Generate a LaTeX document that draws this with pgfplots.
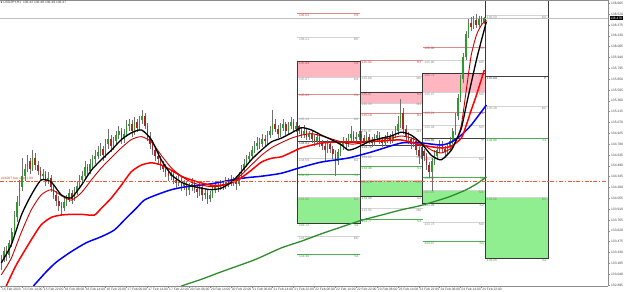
\documentclass[border=0pt]{standalone}
\usepackage{fontspec}
\setmainfont{Liberation Sans}
\newfontfamily\symfont{DejaVu Sans}
\usepackage{pgfplots}
\pgfplotsset{compat=1.18}
\usepackage{pgfplotstable}

\definecolor{bull}{HTML}{2E9A2E}
\definecolor{bear}{HTML}{A82828}
\definecolor{wick}{HTML}{707070}
\definecolor{rlev}{HTML}{D98C8C}
\definecolor{rtxt}{HTML}{C04848}
\definecolor{mlev}{HTML}{D4D4D4}
\definecolor{mtxt}{HTML}{8A8A8A}
\definecolor{plev}{HTML}{404040}
\definecolor{slev}{HTML}{4CAF50}
\definecolor{stxt}{HTML}{3C9A3C}
\definecolor{pinkf}{HTML}{FFB6C1}
\definecolor{greenf}{HTML}{90EE90}
\definecolor{framec}{HTML}{383838}
\definecolor{maG}{HTML}{2E8B2E}
\definecolor{maRt}{HTML}{C80000}
\definecolor{ordl}{HTML}{F05A30}

\newcommand{\tinyf}{\fontsize{3.3}{3.6}\selectfont}

% level line: x1 x2 value linecolor textcolor name
\newcommand{\lvl}[6]{%
 \addplot[#4, line width=0.9pt, forget plot] coordinates {(#1,#3) (#2,#3)};
 \node[anchor=north west, inner sep=0.4pt, xshift=1pt, text=#5, font=\tinyf] at (axis cs:#1,#3) {#3};
 \node[anchor=north east, inner sep=0.4pt, xshift=-1pt, text=#5, font=\tinyf] at (axis cs:#2,#3) {#6};
}
% fills: x1 x2 R2 M4 M1 S2
\newcommand{\pfill}[6]{%
 \addplot[fill=pinkf, draw=none, forget plot] coordinates {(#1,#3)(#2,#3)(#2,#4)(#1,#4)} -- cycle;
 \addplot[fill=greenf, draw=none, forget plot] coordinates {(#1,#5)(#2,#5)(#2,#6)(#1,#6)} -- cycle;
}
\newcommand{\pframe}[4]{%
 \addplot[draw=framec, line width=0.9pt, forget plot] coordinates {(#1,#3)(#2,#3)(#2,#4)(#1,#4)} -- cycle;
}

\pgfplotstableread{
i o h l c
0 133.15 133.30 133.10 133.25
1 133.25 133.40 133.20 133.35
2 133.35 133.42 133.22 133.30
3 133.30 133.50 133.26 133.45
4 133.45 133.66 133.40 133.60
5 133.60 133.88 133.55 133.80
6 133.80 134.08 133.74 134.00
7 134.00 134.30 133.95 134.20
8 134.20 134.60 134.15 134.35
9 134.35 134.52 134.28 134.45
10 134.45 134.64 134.40 134.55
11 134.55 134.60 134.38 134.45
12 134.45 134.70 134.42 134.60
13 134.60 134.66 134.44 134.50
14 134.50 134.56 134.36 134.42
15 134.42 134.48 134.28 134.35
16 134.35 134.45 134.30 134.38
17 134.38 134.42 134.22 134.28
18 134.28 134.40 134.24 134.32
19 134.32 134.36 134.14 134.20
20 134.20 134.25 134.04 134.10
21 134.10 134.15 133.95 134.02
22 134.02 134.08 133.88 133.95
23 133.95 134.00 133.82 133.92
24 133.92 134.06 133.88 134.00
25 134.00 134.10 133.95 134.05
26 134.05 134.18 134.00 134.12
27 134.12 134.16 133.98 134.05
28 134.05 134.20 134.02 134.15
29 134.15 134.28 134.10 134.22
30 134.22 134.36 134.18 134.30
31 134.30 134.42 134.25 134.35
32 134.35 134.55 134.32 134.48
33 134.48 134.52 134.36 134.42
34 134.42 134.58 134.38 134.52
35 134.52 134.64 134.46 134.58
36 134.58 134.70 134.52 134.62
37 134.62 134.75 134.58 134.68
38 134.68 134.80 134.62 134.72
39 134.72 134.76 134.56 134.64
40 134.64 134.85 134.60 134.78
41 134.78 134.98 134.72 134.85
42 134.85 134.90 134.68 134.75
43 134.75 134.88 134.70 134.82
44 134.82 134.96 134.78 134.90
45 134.90 135.02 134.85 134.95
46 134.95 135.00 134.78 134.85
47 134.85 134.98 134.80 134.92
48 134.92 135.10 134.88 135.02
49 135.02 135.12 134.96 135.05
50 135.05 135.10 134.88 134.95
51 134.95 135.14 134.90 135.08
52 135.08 135.12 134.94 135.00
53 135.00 135.16 134.96 135.10
54 135.10 135.24 135.05 135.15
55 135.15 135.20 134.98 135.02
56 135.02 135.06 134.82 134.88
57 134.88 134.94 134.72 134.78
58 134.78 134.84 134.64 134.70
59 134.70 134.76 134.56 134.62
60 134.62 134.68 134.52 134.58
61 134.58 134.62 134.44 134.50
62 134.50 134.56 134.40 134.45
63 134.45 134.52 134.34 134.40
64 134.40 134.46 134.28 134.35
65 134.35 134.44 134.30 134.38
66 134.38 134.42 134.24 134.30
67 134.30 134.35 134.18 134.26
68 134.26 134.36 134.22 134.30
69 134.30 134.34 134.15 134.22
70 134.22 134.30 134.16 134.25
71 134.25 134.28 134.08 134.16
72 134.16 134.26 134.10 134.20
73 134.20 134.32 134.15 134.25
74 134.25 134.30 134.12 134.18
75 134.18 134.22 134.06 134.14
76 134.14 134.26 134.08 134.20
77 134.20 134.24 134.02 134.10
78 134.10 134.18 134.04 134.12
79 134.12 134.16 133.98 134.05
80 134.05 134.15 134.00 134.10
81 134.10 134.22 134.06 134.16
82 134.16 134.28 134.12 134.22
83 134.22 134.26 134.14 134.20
84 134.20 134.30 134.16 134.24
85 134.24 134.28 134.16 134.22
86 134.22 134.34 134.18 134.28
87 134.28 134.32 134.20 134.25
88 134.25 134.36 134.22 134.30
89 134.30 134.34 134.22 134.28
90 134.28 134.32 134.17 134.25
91 134.25 134.40 134.22 134.35
92 134.35 134.50 134.32 134.45
93 134.45 134.58 134.40 134.52
94 134.52 134.64 134.48 134.58
95 134.58 134.68 134.54 134.62
96 134.62 134.76 134.58 134.70
97 134.70 134.82 134.66 134.75
98 134.75 134.88 134.70 134.80
99 134.80 134.86 134.72 134.78
100 134.78 134.92 134.74 134.85
101 134.85 134.90 134.76 134.82
102 134.82 134.96 134.78 134.90
103 134.90 135.02 134.86 134.95
104 134.95 135.24 134.90 135.05
105 135.05 135.12 134.94 134.98
106 134.98 135.04 134.86 134.92
107 134.92 135.06 134.88 135.00
108 135.00 135.12 134.96 135.05
109 135.05 135.08 134.90 134.96
110 134.96 135.08 134.92 135.02
111 135.02 135.14 134.98 135.08
112 135.08 135.12 134.94 134.98
113 134.98 135.08 134.94 135.02
114 135.02 135.04 134.92 134.96
115 134.96 135.00 134.86 134.90
116 134.90 135.04 134.86 134.95
117 134.95 134.98 134.84 134.88
118 134.88 134.96 134.84 134.92
119 134.92 134.95 134.80 134.85
120 134.85 134.90 134.76 134.82
121 134.82 134.94 134.78 134.88
122 134.88 134.92 134.74 134.80
123 134.80 134.84 134.70 134.75
124 134.75 134.80 134.55 134.70
125 134.70 134.84 134.66 134.78
126 134.78 134.82 134.66 134.72
127 134.72 134.76 134.58 134.65
128 134.65 134.70 134.35 134.55
129 134.55 134.72 134.50 134.68
130 134.68 134.80 134.62 134.75
131 134.75 134.88 134.70 134.82
132 134.82 134.86 134.72 134.78
133 134.78 134.92 134.74 134.86
134 134.86 135.02 134.82 134.92
135 134.92 134.96 134.80 134.85
136 134.85 134.94 134.80 134.88
137 134.88 134.96 134.84 134.91
138 134.91 134.95 134.80 134.86
139 134.86 134.90 134.76 134.82
140 134.82 134.94 134.78 134.88
141 134.88 134.92 134.78 134.84
142 134.84 134.88 134.74 134.80
143 134.80 134.92 134.76 134.86
144 134.86 134.96 134.82 134.90
145 134.90 134.94 134.78 134.84
146 134.84 134.88 134.74 134.80
147 134.80 134.90 134.76 134.85
148 134.85 134.94 134.80 134.88
149 134.88 134.92 134.78 134.83
150 134.83 134.96 134.80 134.90
151 134.90 135.02 134.86 134.95
152 134.95 135.15 134.90 135.05
153 135.05 135.38 135.00 135.20
154 135.20 135.26 134.92 134.98
155 134.98 135.04 134.82 134.88
156 134.88 134.94 134.78 134.85
157 134.85 134.88 134.72 134.78
158 134.78 134.88 134.74 134.82
159 134.82 134.85 134.64 134.70
160 134.70 134.74 134.51 134.62
161 134.62 134.74 134.58 134.69
162 134.69 134.72 134.56 134.62
163 134.62 134.66 134.44 134.50
164 134.50 134.54 134.32 134.40
165 134.40 134.60 134.15 134.55
166 134.55 134.70 134.50 134.62
167 134.62 134.76 134.58 134.70
168 134.70 134.84 134.66 134.78
169 134.78 134.82 134.66 134.72
170 134.72 134.76 134.60 134.68
171 134.68 134.80 134.64 134.75
172 134.75 134.88 134.70 134.82
173 134.82 135.00 134.78 134.95
174 134.95 135.20 134.90 135.15
175 135.15 135.45 135.10 135.40
176 135.40 135.70 135.35 135.65
177 135.65 136.00 135.60 135.95
178 135.95 136.30 135.90 136.25
179 136.25 136.46 136.20 136.40
180 136.40 136.48 136.30 136.35
181 136.35 136.50 136.32 136.44
182 136.44 136.52 136.34 136.38
183 136.38 136.50 136.35 136.46
184 136.46 136.49 136.38 136.42
185 136.42 136.48 136.39 136.47
}\ohlc

\begin{document}
\begin{tikzpicture}
\path[use as bounding box] (0,0) rectangle (625pt,292pt);
\begin{axis}[
  scale only axis, width=608pt, height=286pt,
  at={(0pt,6pt)}, anchor=south west,
  xmin=-0.5, xmax=232.5, ymin=132.88, ymax=136.71,
  separate axis lines,
  axis x line*=bottom, axis y line*=right,
  axis line style={draw=black!45, line width=0.6pt},
  tick align=outside, major tick length=2pt,
  tick style={black!45, line width=0.4pt},
  xtick={0,8,...,184},
  xticklabels={15 Feb 2023, 15 Feb 14:00, 15 Feb 22:00, 16 Feb 06:00, 16 Feb 14:00, 16 Feb 22:00, 17 Feb 06:00, 17 Feb 14:00, 17 Feb 22:00, 20 Feb 06:00, 20 Feb 14:00, 20 Feb 22:00, 21 Feb 06:00, 21 Feb 14:00, 21 Feb 22:00, 22 Feb 06:00, 22 Feb 14:00, 22 Feb 22:00, 23 Feb 06:00, 23 Feb 14:00, 23 Feb 22:00, 24 Feb 06:00, 24 Feb 14:00, 24 Feb 22:00},
  xticklabel style={font=\tinyf, text=black!75, anchor=north west, inner sep=0.4pt, xshift=0.3pt},
  ytick={136.665,136.52,136.375,136.23,136.085,135.94,135.795,135.65,135.505,135.36,135.215,135.07,134.925,134.78,134.635,134.49,134.345,134.2,134.055,133.91,133.765,133.62,133.475,133.33,133.185,133.04,132.895},
  yticklabel style={font=\tinyf, text=black!75, anchor=west, inner sep=0.4pt, xshift=0.5pt,
    /pgf/number format/.cd, fixed, fixed zerofill, precision=3, assume math mode=true},
  scaled y ticks=false,
  clip=true,
]
% ---- pivot zones: fills
\pfill{113.5}{137.5}{135.89}{135.67}{134.06}{133.72}
\pfill{137.5}{161.5}{135.47}{135.33}{134.29}{134.08}
\pfill{161.5}{185.5}{135.73}{135.47}{134.16}{133.99}
\addplot[fill=greenf, draw=none, forget plot] coordinates {(185.5,134.06)(209.5,134.06)(209.5,133.25)(185.5,133.25)} -- cycle;
% ---- box 1
\lvl{113.5}{137.5}{136.53}{rlev}{rtxt}{R3}
\lvl{113.5}{137.5}{136.21}{mlev}{mtxt}{M5}
\lvl{113.5}{137.5}{135.89}{rlev}{rtxt}{R2}
\lvl{113.5}{137.5}{135.67}{mlev}{mtxt}{M4}
\lvl{113.5}{137.5}{135.45}{rlev}{rtxt}{R1}
\lvl{113.5}{137.5}{135.13}{mlev}{mtxt}{M3}
\lvl{113.5}{137.5}{134.81}{plev}{plev}{P}
\lvl{113.5}{137.5}{134.59}{mlev}{mtxt}{M2}
\lvl{113.5}{137.5}{134.38}{slev}{stxt}{S1}
\lvl{113.5}{137.5}{134.06}{mlev}{mtxt}{M1}
\lvl{113.5}{137.5}{133.72}{slev}{stxt}{S2}
\lvl{113.5}{137.5}{133.54}{mlev}{mtxt}{M0}
\lvl{113.5}{137.5}{133.30}{slev}{stxt}{S3}
% ---- box 2
\lvl{137.5}{161.5}{135.90}{rlev}{rtxt}{R3}
\lvl{137.5}{161.5}{135.68}{mlev}{mtxt}{M5}
\lvl{137.5}{161.5}{135.47}{rlev}{rtxt}{R2}
\lvl{137.5}{161.5}{135.33}{mlev}{mtxt}{M4}
\lvl{137.5}{161.5}{135.19}{rlev}{rtxt}{R1}
\lvl{137.5}{161.5}{134.97}{mlev}{mtxt}{M3}
\lvl{137.5}{161.5}{134.76}{plev}{plev}{P}
\lvl{137.5}{161.5}{134.62}{mlev}{mtxt}{M2}
\lvl{137.5}{161.5}{134.48}{slev}{stxt}{S1}
\lvl{137.5}{161.5}{134.29}{mlev}{mtxt}{M1}
\lvl{137.5}{161.5}{134.08}{slev}{stxt}{S2}
\lvl{137.5}{161.5}{133.92}{mlev}{mtxt}{M0}
\lvl{137.5}{161.5}{133.77}{slev}{stxt}{S3}
% ---- box 3
\lvl{161.5}{185.5}{136.08}{rlev}{rtxt}{R3}
\lvl{161.5}{185.5}{135.90}{mlev}{mtxt}{M5}
\lvl{161.5}{185.5}{135.73}{rlev}{rtxt}{R2}
\lvl{161.5}{185.5}{135.47}{mlev}{mtxt}{M4}
\lvl{161.5}{185.5}{135.21}{rlev}{rtxt}{R1}
\lvl{161.5}{185.5}{135.03}{mlev}{mtxt}{M3}
\lvl{161.5}{185.5}{134.86}{plev}{plev}{P}
\lvl{161.5}{185.5}{134.60}{mlev}{mtxt}{M2}
\lvl{161.5}{185.5}{134.34}{slev}{stxt}{S1}
\lvl{161.5}{185.5}{134.16}{mlev}{mtxt}{M1}
\lvl{161.5}{185.5}{133.99}{slev}{stxt}{S2}
\lvl{161.5}{185.5}{133.73}{mlev}{mtxt}{M0}
\lvl{161.5}{185.5}{133.47}{slev}{stxt}{S3}
% ---- box 4
\lvl{185.5}{209.5}{136.50}{mlev}{mtxt}{M3}
\lvl{185.5}{209.5}{135.69}{plev}{plev}{P}
\lvl{185.5}{209.5}{135.28}{mlev}{mtxt}{M2}
\lvl{185.5}{209.5}{134.86}{slev}{stxt}{S1}
\lvl{185.5}{209.5}{134.06}{mlev}{mtxt}{M1}
\lvl{185.5}{209.5}{133.25}{slev}{stxt}{S2}
% ---- frames
\pframe{113.5}{137.5}{135.89}{133.72}
\pframe{137.5}{161.5}{135.47}{134.08}
\pframe{161.5}{185.5}{135.73}{133.99}
\pframe{185.5}{209.5}{138.13}{133.25}
% ---- bid line
\addplot[color=black!25, line width=0.6pt, forget plot] coordinates {(-0.5,136.47)(232.5,136.47)};
% ---- candles: wicks
\addplot[draw=none, mark=none, forget plot,
  error bars/.cd, y dir=plus, y explicit, error mark=none,
  error bar style={line width=0.5pt, draw=wick}]
  table[x=i, y=l, y error expr=\thisrow{h}-\thisrow{l}] {\ohlc};
% bull bodies
\addplot[draw=none, mark=none, forget plot,
  restrict expr to domain={\thisrow{c}-\thisrow{o}}{0:10},
  error bars/.cd, y dir=plus, y explicit, error mark=none,
  error bar style={line width=1.6pt, draw=bull}]
  table[x=i, y=o, y error expr=\thisrow{c}-\thisrow{o}] {\ohlc};
% bear bodies
\addplot[draw=none, mark=none, forget plot,
  restrict expr to domain={\thisrow{o}-\thisrow{c}}{0.0001:10},
  error bars/.cd, y dir=plus, y explicit, error mark=none,
  error bar style={line width=1.6pt, draw=bear}]
  table[x=i, y=c, y error expr=\thisrow{o}-\thisrow{c}] {\ohlc};
% ---- moving averages
\addplot[maG, line width=1.3pt, smooth, tension=0.4] coordinates {
(69.0,132.88)(76.7,132.97)(84.3,133.07)(97.0,133.23)(107.3,133.39)(115.0,133.48)(122.7,133.58)(130.3,133.67)(138.0,133.76)(145.7,133.83)(153.3,133.90)(161.0,133.96)(171.3,134.07)(178.2,134.17)(182.1,134.246)(185.9,134.34)};
\addplot[blue, line width=1.5pt, smooth, tension=0.4] coordinates {
(12.3,132.88)(17.2,133.07)(21.1,133.20)(26.8,133.34)(32.6,133.46)(38.3,133.54)(43.3,133.63)(47.9,133.79)(51.7,133.92)(54.8,134.03)(59.4,134.10)(65.2,134.17)(70.9,134.21)(76.7,134.23)(82.4,134.26)(88.2,134.30)(93.9,134.33)(99.7,134.35)(107.3,134.39)(115.0,134.47)(122.7,134.54)(133.0,134.594)(141.8,134.674)(153.3,134.795)(161.0,134.795)(168.6,134.768)(172.5,134.808)(176.3,134.902)(180.1,135.036)(185.9,135.304)};
\addplot[red, line width=1.5pt, smooth, tension=0.4] coordinates {
(1.9,132.88)(5.7,133.16)(11.5,133.50)(15.3,133.70)(19.2,133.80)(23.0,133.83)(26.8,133.84)(30.7,133.84)(35.6,133.83)(38.3,133.92)(42.2,134.06)(46.0,134.23)(49.8,134.41)(53.7,134.50)(57.5,134.53)(61.3,134.50)(65.2,134.43)(69.0,134.35)(72.8,134.30)(76.7,134.26)(80.5,134.23)(84.3,134.23)(88.2,134.26)(92.0,134.33)(95.8,134.43)(99.7,134.54)(103.5,134.59)(107.3,134.61)(111.2,134.67)(115.0,134.73)(122.7,134.795)(130.3,134.808)(138.0,134.808)(145.7,134.822)(153.3,134.835)(161.0,134.768)(168.6,134.728)(172.5,134.755)(176.3,134.862)(178.2,135.036)(180.1,135.237)(182.1,135.438)(185.1,135.773)};
\addplot[maRt, line width=0.9pt, smooth, tension=0.4] coordinates {
(0,133.03)(3.8,133.25)(7.7,133.60)(11.5,133.90)(15.3,134.10)(19.2,134.17)(23.0,134.09)(26.8,134.03)(30.7,134.13)(34.5,134.30)(38.3,134.46)(42.2,134.60)(46.0,134.73)(49.8,134.84)(53.7,134.88)(57.5,134.81)(61.3,134.63)(65.2,134.46)(69.0,134.35)(72.8,134.27)(76.7,134.23)(80.5,134.21)(84.3,134.22)(88.2,134.27)(92.0,134.37)(95.8,134.50)(99.7,134.63)(103.5,134.73)(107.3,134.80)(111.2,134.86)(115.0,134.90)(118.8,134.92)(122.7,134.89)(126.5,134.85)(130.3,134.81)(134.2,134.78)(138.0,134.795)(141.8,134.835)(145.7,134.849)(149.5,134.862)(153.3,134.889)(157.1,134.862)(161.0,134.795)(164.8,134.701)(168.6,134.661)(172.5,134.728)(174.4,134.835)(176.3,135.036)(178.2,135.505)(180.1,135.973)(182.1,136.241)(184.0,136.375)(185.9,136.442)};
\addplot[black, line width=1.3pt, smooth, tension=0.4] coordinates {
(0,133.19)(3.8,133.43)(7.7,133.83)(11.5,134.10)(15.3,134.30)(19.2,134.27)(23.0,134.10)(26.8,134.06)(30.7,134.23)(34.5,134.43)(38.3,134.57)(42.2,134.70)(46.0,134.84)(49.8,134.93)(53.7,134.97)(57.5,134.84)(61.3,134.57)(65.2,134.37)(69.0,134.27)(72.8,134.22)(76.7,134.19)(80.5,134.17)(84.3,134.19)(88.2,134.27)(92.0,134.41)(95.8,134.57)(99.7,134.70)(103.5,134.81)(107.3,134.86)(111.2,134.93)(115.0,135.00)(118.8,134.97)(122.7,134.90)(126.5,134.84)(130.3,134.77)(133.0,134.70)(136.1,134.73)(140.7,134.81)(145.7,134.86)(149.5,134.89)(153.3,134.94)(157.1,134.90)(161.0,134.79)(164.8,134.63)(168.6,134.57)(172.5,134.70)(174.4,134.84)(176.3,134.99)(178.2,135.30)(180.1,135.60)(182.1,135.91)(184.0,136.17)(185.9,136.42)};
% ---- order line (drawn last, on top)
\draw[draw=ordl, line width=1.0pt, dash pattern=on 4pt off 1.6pt on 1.4pt off 1.6pt] (axis cs:-0.5,134.286) -- (axis cs:232.5,134.286);
% ---- frame top line and texts
\draw[black!45, line width=0.6pt] (rel axis cs:0,1) -- (rel axis cs:1,1);
\node[anchor=north west, font=\tinyf, text=black!80, inner sep=0.5pt] at (rel axis cs:0,0.997) {{\symfont\fontsize{2.4}{3}\selectfont ▼} USDJPY,H1\ \ 136.42 136.48 136.39 136.47};
\node[anchor=south west, font=\tinyf, text=ordl!80!black, inner sep=0.4pt] at (axis cs:-0.3,134.29) {\#41087 buy stop 1.00};
\end{axis}
\node[fill=black, text=white, font=\tinyf, inner sep=0.6pt, anchor=west] at (609.5pt,{6pt+(136.47-132.88)*74.67pt}) {136.470};
\end{tikzpicture}
\end{document}
